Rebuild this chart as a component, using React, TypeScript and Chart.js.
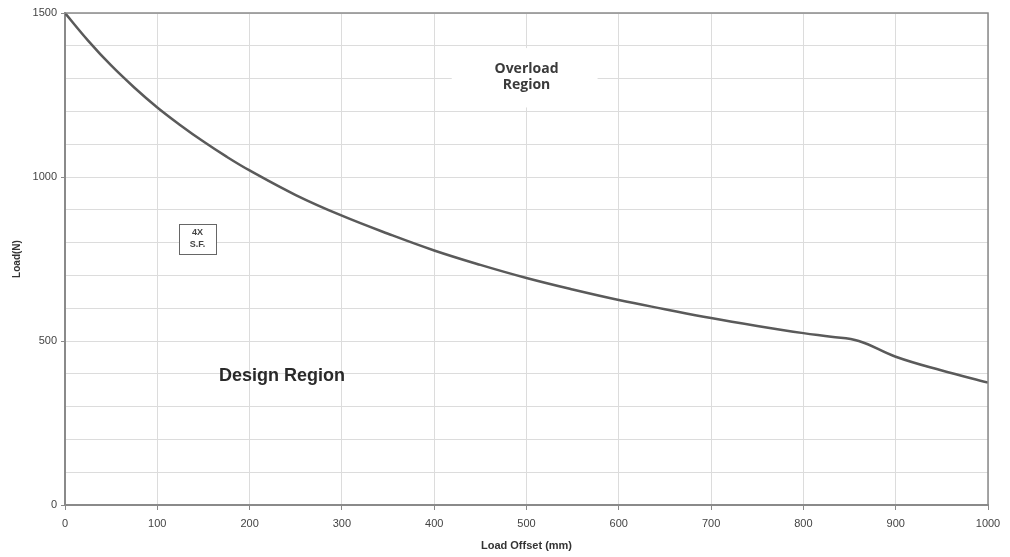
import React, { useEffect, useRef } from "react";
import { Chart, registerables } from "chart.js";

Chart.register(...registerables);

const offsets = [0, 25, 50, 75, 100, 125, 150, 175, 200, 250, 300, 350, 400, 450, 500, 550, 600, 650, 700, 750, 800, 830, 860, 900, 950, 1000];
const loads = [1500, 1416, 1340, 1273, 1212, 1158, 1108, 1062, 1020, 945, 882, 827, 776, 732, 692, 657, 625, 597, 570, 546, 524, 513, 500, 452, 410, 373];
const yLabelValues = [0, 500, 1000, 1500];
const xTitle = "Load Offset (mm)";
const yTitle = "Load(N)";
const overloadLines = ["Overload", "Region"];
const designLabel = "Design Region";
const sfLines = ["4X", "S.F."];

const annotationPlugin = {
  id: "regionLabels",
  beforeDatasetsDraw(chart: any) {
    const { ctx, scales } = chart;
    const x = scales.x, y = scales.y;
    ctx.save();
    ctx.fillStyle = "#ffffff";
    const l = x.getPixelForValue(419), r = x.getPixelForValue(577);
    const t = y.getPixelForValue(1393), b = y.getPixelForValue(1212);
    ctx.fillRect(l, t, r - l, b - t);
    ctx.restore();
  },
  afterDraw(chart: any) {
    const { ctx, scales } = chart;
    const x = scales.x, y = scales.y;
    ctx.save();
    ctx.textAlign = "center";
    ctx.textBaseline = "middle";
    ctx.fillStyle = "#3a3a3a";
    ctx.font = "bold 14px 'Open Sans', sans-serif";
    const ox = x.getPixelForValue(500);
    ctx.fillText(overloadLines[0], ox, y.getPixelForValue(1329));
    ctx.fillText(overloadLines[1], ox, y.getPixelForValue(1280));

    ctx.font = "bold 18px 'Liberation Sans', Arial, sans-serif";
    ctx.fillStyle = "#2a2a2a";
    ctx.fillText(designLabel, x.getPixelForValue(235), y.getPixelForValue(393));

    const bl = Math.round(x.getPixelForValue(123.5)) + 0.5;
    const br = Math.round(x.getPixelForValue(163.6)) + 0.5;
    const bt = Math.round(y.getPixelForValue(857)) + 0.5;
    const bb = Math.round(y.getPixelForValue(765)) + 0.5;
    ctx.fillStyle = "#ffffff";
    ctx.fillRect(bl, bt, br - bl, bb - bt);
    ctx.strokeStyle = "#666666";
    ctx.lineWidth = 1;
    ctx.strokeRect(bl, bt, br - bl, bb - bt);
    ctx.fillStyle = "#444444";
    ctx.font = "bold 9px 'Liberation Sans', Arial, sans-serif";
    const cx = x.getPixelForValue(143.5);
    ctx.fillText(sfLines[0], cx, y.getPixelForValue(832));
    ctx.fillText(sfLines[1], cx, y.getPixelForValue(793));

    const ca = chart.chartArea;
    ctx.strokeStyle = "#8a8a8a";
    ctx.lineWidth = 1.5;
    ctx.beginPath();
    ctx.moveTo(ca.left, ca.top);
    ctx.lineTo(ca.right, ca.top);
    ctx.lineTo(ca.right, ca.bottom);
    ctx.stroke();
    ctx.restore();
  },
};

export default function App() {
  const ref = useRef<HTMLCanvasElement>(null);
  useEffect(() => {
    document.body.style.margin = "0";
    const chart = new Chart(ref.current!, {
      type: "line",
      data: {
        datasets: [
          {
            data: offsets.map((o, i) => ({ x: o, y: loads[i] })),
            borderColor: "#5a5a5a",
            borderWidth: 2.5,
            pointRadius: 0,
            tension: 0.4,
            fill: false,
          },
        ],
      },
      options: {
        animation: false,
        responsive: false,
        maintainAspectRatio: false,
        layout: { padding: { top: 13, right: 22, left: 0, bottom: 0 } },
        plugins: { legend: { display: false }, tooltip: { enabled: false } },
        scales: {
          x: {
            type: "linear",
            min: 0,
            max: 1000,
            ticks: {
              stepSize: 100,
              color: "#444",
              font: { family: "'Liberation Sans', Arial, sans-serif", size: 11 },
              padding: 7,
              maxRotation: 0,
              callback: (v: any) => String(v),
            },
            grid: { color: "#dcdcdc", lineWidth: 1, tickLength: 5, tickColor: "#8a8a8a" },
            border: { color: "#8a8a8a", width: 2 },
            title: {
              display: true,
              text: xTitle,
              color: "#333",
              font: { family: "'Liberation Sans', Arial, sans-serif", size: 11, weight: "bold" },
              padding: { top: 0, bottom: 4 },
            },
            afterFit(scale: any) {
              scale.height = 52;
            },
          },
          y: {
            type: "linear",
            min: 0,
            max: 1500,
            ticks: {
              stepSize: 100,
              color: "#444",
              font: { family: "'Liberation Sans', Arial, sans-serif", size: 11 },
              padding: 4,
              callback: (v: any) => (yLabelValues.includes(v) ? String(v) : ""),
            },
            grid: {
              color: "#dcdcdc",
              lineWidth: 1,
              tickLength: 4,
              tickColor: (c: any) => (yLabelValues.includes(c.tick.value) ? "#8a8a8a" : "rgba(0,0,0,0)"),
            },
            border: { color: "#8a8a8a", width: 2 },
            title: {
              display: true,
              text: yTitle,
              color: "#333",
              font: { family: "'Liberation Sans', Arial, sans-serif", size: 10, weight: "bold" },
              padding: { top: 11, bottom: 0 },
            },
            afterFit(scale: any) {
              scale.width = 65;
            },
          },
        },
      },
      plugins: [annotationPlugin],
    });
    return () => chart.destroy();
  }, []);
  return (
    <div style={{ width: 1010, height: 557 }}>
      <canvas ref={ref} width={1010} height={557} style={{ width: 1010, height: 557 }} />
    </div>
  );
}
